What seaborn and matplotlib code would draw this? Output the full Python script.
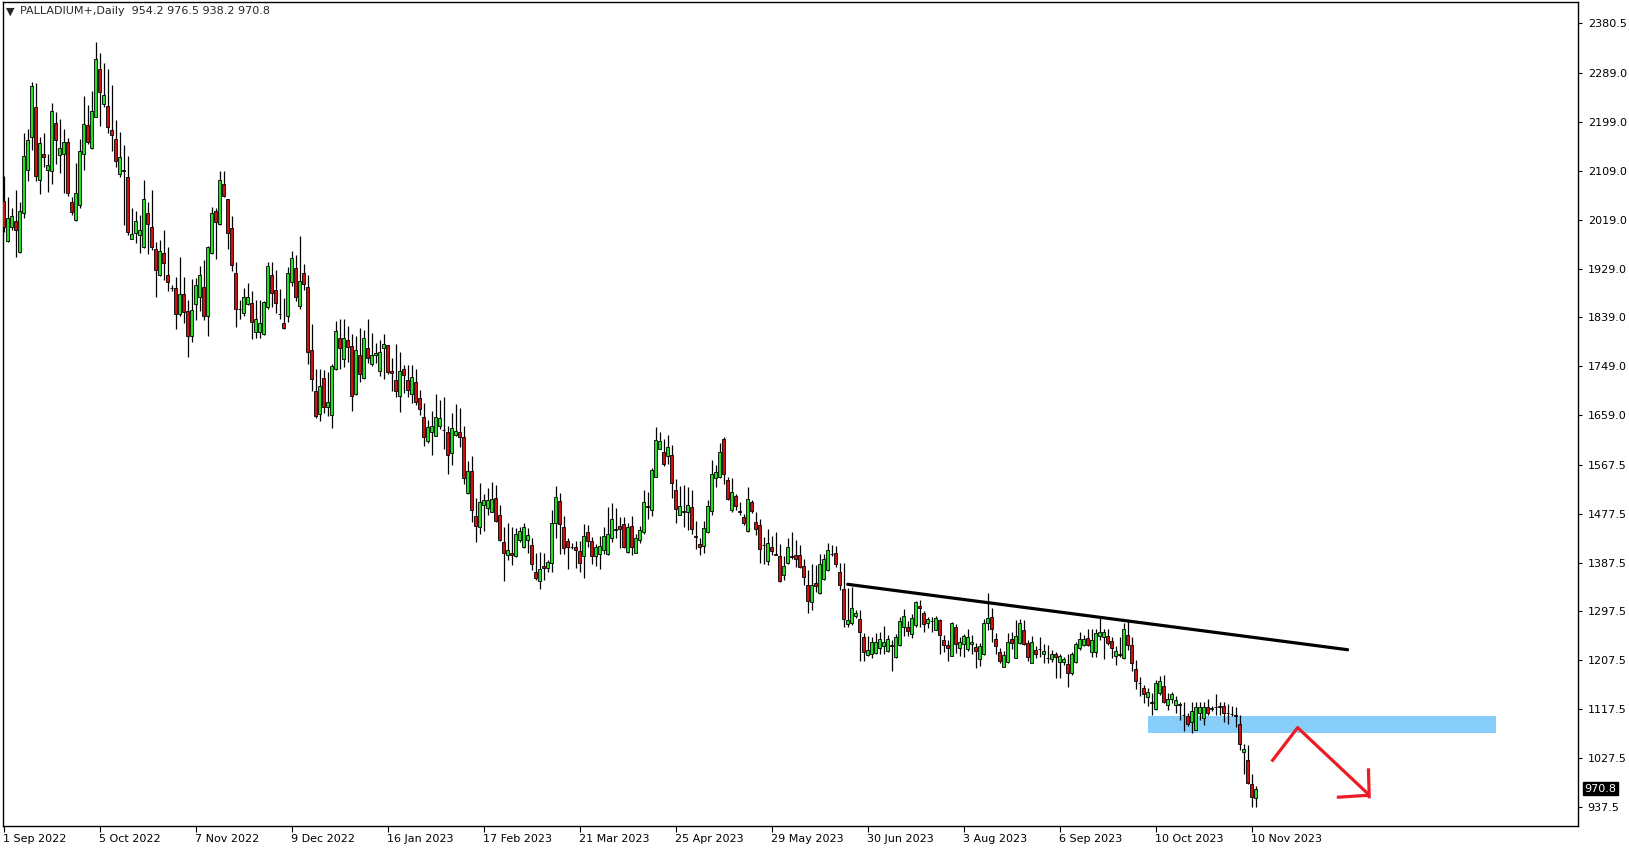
import numpy as np
import pandas as pd
import matplotlib
matplotlib.use("Agg")
import matplotlib.pyplot as plt
import matplotlib.transforms as mtransforms
import seaborn as sns

# Daily candles, 1 Sep 2022 .. 13 Nov 2023
opens = [
    2054, 1980, 2005, 2016, 1959, 2032, 2110, 2171, 2226, 2092, 2141, 2111, 2108, 2198, 2138, 2140, 2163, 2051, 2018, 2046,
    2140, 2193, 2152, 2209, 2296, 2233, 2228, 2184, 2168, 2104, 2110, 2098, 1984, 1994, 1990, 1968, 2031, 2005, 1966, 1917,
    1958, 1917, 1894, 1893, 1846, 1883, 1851, 1804, 1864, 1876, 1896, 1842, 1957, 2035, 2012, 2084, 2057, 2003, 1920, 1855,
    1848, 1863, 1865, 1813, 1813, 1809, 1858, 1917, 1889, 1846, 1828, 1841, 1905, 1931, 1861, 1920, 1896, 1779, 1703, 1662,
    1727, 1675, 1660, 1744, 1801, 1763, 1797, 1786, 1698, 1769, 1727, 1782, 1753, 1769, 1741, 1782, 1788, 1740, 1723, 1695,
    1744, 1723, 1698, 1720, 1690, 1655, 1611, 1628, 1621, 1640, 1632, 1628, 1589, 1622, 1628, 1618, 1515, 1556, 1473, 1453,
    1493, 1488, 1481, 1506, 1475, 1425, 1401, 1405, 1399, 1429, 1416, 1430, 1419, 1371, 1353, 1381, 1378, 1387, 1461, 1501,
    1453, 1427, 1417, 1416, 1408, 1399, 1443, 1427, 1399, 1403, 1410, 1403, 1432, 1449, 1454, 1458, 1407, 1454, 1406, 1429,
    1443, 1491, 1484, 1546, 1597, 1592, 1583, 1585, 1521, 1476, 1482, 1480, 1489, 1436, 1421, 1418, 1443, 1482, 1543, 1545,
    1616, 1539, 1484, 1510, 1482, 1471, 1445, 1499, 1462, 1456, 1420, 1390, 1416, 1403, 1399, 1364, 1386, 1399, 1401, 1401,
    1382, 1347, 1314, 1350, 1331, 1357, 1373, 1403, 1405, 1370, 1338, 1275, 1277, 1289, 1283, 1250, 1217, 1220, 1221, 1231,
    1234, 1225, 1235, 1214, 1236, 1268, 1269, 1256, 1272, 1308, 1295, 1277, 1280, 1264, 1282, 1244, 1236, 1216, 1268, 1230,
    1237, 1228, 1237, 1232, 1210, 1219, 1277, 1287, 1246, 1222, 1196, 1204, 1246, 1212, 1239, 1263, 1239, 1203, 1226, 1229,
    1219, 1212, 1209, 1219, 1204, 1205, 1201, 1185, 1205, 1230, 1235, 1248, 1222, 1223, 1252, 1251, 1253, 1243, 1216, 1219,
    1211, 1255, 1235, 1191, 1165, 1156, 1139, 1130, 1117, 1147, 1160, 1126, 1137, 1126, 1127, 1107, 1104, 1093, 1080, 1111,
    1101, 1122, 1118, 1121, 1123, 1123, 1110, 1109, 1107, 1090, 1039, 1024, 980, 954.2,
]
highs = [
    2100, 2060, 2040, 2074, 2052, 2178, 2187, 2272, 2270, 2171, 2178, 2140, 2234, 2218, 2204, 2187, 2169, 2061, 2123, 2167,
    2247, 2230, 2257, 2346, 2326, 2307, 2297, 2267, 2202, 2181, 2156, 2136, 2040, 2036, 2027, 2092, 2052, 2074, 1978, 1982,
    2000, 1969, 1898, 1913, 1950, 1913, 1871, 1910, 1911, 1933, 1945, 1970, 2042, 2040, 2109, 2108, 2058, 2026, 1942, 1872,
    1893, 1903, 1887, 1872, 1872, 1869, 1941, 1941, 1926, 1892, 1875, 1932, 1962, 1954, 1989, 1938, 1917, 1827, 1744, 1745,
    1742, 1739, 1753, 1833, 1836, 1836, 1823, 1809, 1805, 1820, 1816, 1836, 1810, 1792, 1797, 1809, 1789, 1764, 1790, 1775,
    1751, 1751, 1751, 1744, 1705, 1682, 1650, 1667, 1698, 1687, 1692, 1640, 1663, 1680, 1672, 1640, 1575, 1584, 1506, 1534,
    1513, 1525, 1536, 1531, 1493, 1453, 1460, 1453, 1451, 1453, 1460, 1451, 1433, 1405, 1407, 1405, 1393, 1484, 1529, 1515,
    1473, 1432, 1424, 1428, 1428, 1458, 1456, 1434, 1421, 1437, 1453, 1489, 1497, 1488, 1471, 1472, 1460, 1474, 1441, 1454,
    1522, 1517, 1561, 1637, 1628, 1616, 1623, 1605, 1542, 1529, 1530, 1527, 1521, 1465, 1433, 1464, 1502, 1576, 1567, 1607,
    1618, 1545, 1543, 1513, 1499, 1477, 1526, 1502, 1480, 1467, 1435, 1449, 1436, 1443, 1421, 1399, 1432, 1444, 1430, 1419,
    1395, 1374, 1384, 1383, 1404, 1404, 1424, 1419, 1418, 1387, 1386, 1341, 1343, 1301, 1300, 1257, 1252, 1251, 1257, 1260,
    1270, 1254, 1244, 1256, 1287, 1302, 1280, 1292, 1316, 1319, 1298, 1287, 1287, 1289, 1284, 1254, 1245, 1278, 1274, 1250,
    1256, 1266, 1255, 1239, 1239, 1284, 1332, 1303, 1257, 1230, 1225, 1258, 1260, 1282, 1283, 1282, 1245, 1252, 1234, 1251,
    1237, 1235, 1227, 1223, 1220, 1214, 1219, 1223, 1242, 1260, 1254, 1266, 1266, 1266, 1285, 1266, 1266, 1251, 1233, 1251,
    1277, 1281, 1251, 1208, 1177, 1162, 1156, 1147, 1171, 1179, 1180, 1148, 1150, 1141, 1130, 1131, 1110, 1131, 1130, 1130,
    1130, 1136, 1123, 1145, 1131, 1131, 1127, 1123, 1121, 1107, 1053, 1052, 998, 976.5,
]
lows = [
    1996, 1978, 2000, 1951, 1957, 2022, 2091, 2148, 2091, 2067, 2117, 2071, 2085, 2121, 2106, 2069, 2062, 2027, 2016, 2040,
    2110, 2158, 2149, 2208, 2192, 2227, 2178, 2146, 2117, 2098, 2009, 1990, 1983, 1976, 1957, 1967, 1955, 1963, 1876, 1915,
    1908, 1887, 1887, 1817, 1842, 1828, 1766, 1794, 1834, 1851, 1834, 1804, 1955, 1947, 2009, 2061, 1966, 1924, 1822, 1837,
    1842, 1862, 1799, 1801, 1801, 1807, 1855, 1858, 1848, 1836, 1818, 1831, 1897, 1870, 1855, 1890, 1754, 1704, 1653, 1649,
    1663, 1658, 1636, 1742, 1745, 1748, 1757, 1667, 1696, 1721, 1725, 1755, 1750, 1755, 1732, 1725, 1734, 1704, 1692, 1664,
    1699, 1692, 1682, 1677, 1660, 1602, 1607, 1585, 1620, 1633, 1596, 1550, 1567, 1621, 1600, 1532, 1513, 1462, 1425, 1440,
    1445, 1475, 1480, 1462, 1427, 1354, 1393, 1383, 1398, 1425, 1414, 1405, 1373, 1355, 1338, 1355, 1371, 1371, 1433, 1404,
    1404, 1376, 1412, 1378, 1371, 1360, 1416, 1385, 1382, 1375, 1403, 1401, 1426, 1433, 1414, 1414, 1405, 1401, 1405, 1424,
    1441, 1468, 1474, 1545, 1596, 1565, 1570, 1507, 1461, 1475, 1453, 1448, 1441, 1413, 1401, 1406, 1442, 1475, 1526, 1543,
    1533, 1502, 1480, 1484, 1476, 1456, 1444, 1478, 1438, 1387, 1384, 1383, 1401, 1401, 1352, 1355, 1384, 1394, 1379, 1377,
    1346, 1295, 1300, 1333, 1330, 1355, 1372, 1400, 1380, 1337, 1268, 1269, 1272, 1286, 1207, 1207, 1215, 1211, 1219, 1219,
    1219, 1222, 1188, 1212, 1233, 1252, 1252, 1248, 1269, 1269, 1260, 1267, 1260, 1263, 1220, 1222, 1206, 1215, 1221, 1216,
    1214, 1225, 1220, 1193, 1197, 1217, 1263, 1242, 1220, 1202, 1195, 1202, 1228, 1211, 1238, 1236, 1206, 1202, 1212, 1214,
    1203, 1202, 1205, 1174, 1174, 1199, 1159, 1180, 1202, 1227, 1233, 1233, 1214, 1214, 1245, 1210, 1236, 1211, 1199, 1214,
    1209, 1227, 1188, 1154, 1141, 1128, 1123, 1107, 1116, 1144, 1128, 1116, 1128, 1110, 1098, 1078, 1087, 1073, 1079, 1098,
    1088, 1107, 1115, 1107, 1107, 1093, 1090, 1104, 1084, 1042, 999, 980, 938, 938.2,
]
closes = [
    2006, 2022, 2025, 2001, 2036, 2136, 2165, 2265, 2099, 2160, 2134, 2119, 2219, 2165, 2152, 2163, 2068, 2034, 2069, 2145,
    2195, 2162, 2219, 2316, 2254, 2248, 2189, 2176, 2127, 2135, 2108, 1997, 1993, 2016, 2000, 2057, 2012, 1968, 1926, 1961,
    1940, 1905, 1893, 1845, 1883, 1850, 1804, 1852, 1898, 1918, 1842, 1968, 2031, 2015, 2093, 2063, 1994, 1936, 1854, 1854,
    1876, 1877, 1830, 1836, 1828, 1867, 1933, 1885, 1865, 1845, 1820, 1920, 1948, 1876, 1907, 1900, 1776, 1725, 1658, 1712,
    1675, 1683, 1749, 1815, 1782, 1801, 1784, 1694, 1779, 1734, 1801, 1764, 1769, 1773, 1775, 1791, 1738, 1736, 1703, 1740,
    1733, 1705, 1729, 1683, 1670, 1618, 1637, 1639, 1655, 1653, 1631, 1586, 1635, 1629, 1618, 1543, 1556, 1484, 1454, 1499,
    1503, 1502, 1504, 1464, 1430, 1405, 1410, 1401, 1440, 1446, 1453, 1438, 1384, 1360, 1375, 1377, 1388, 1460, 1508, 1459,
    1414, 1416, 1416, 1410, 1387, 1436, 1427, 1399, 1416, 1418, 1436, 1440, 1467, 1448, 1449, 1416, 1453, 1416, 1432, 1447,
    1499, 1490, 1558, 1613, 1611, 1570, 1600, 1535, 1486, 1491, 1480, 1493, 1449, 1435, 1416, 1451, 1491, 1550, 1554, 1591,
    1551, 1505, 1517, 1491, 1481, 1460, 1504, 1482, 1449, 1412, 1419, 1423, 1408, 1402, 1353, 1381, 1416, 1398, 1395, 1380,
    1361, 1317, 1347, 1345, 1384, 1394, 1410, 1403, 1384, 1347, 1283, 1282, 1303, 1294, 1260, 1223, 1226, 1241, 1241, 1246,
    1241, 1246, 1234, 1250, 1279, 1290, 1262, 1285, 1314, 1303, 1274, 1284, 1279, 1285, 1255, 1236, 1231, 1276, 1237, 1241,
    1252, 1250, 1241, 1224, 1233, 1277, 1285, 1265, 1233, 1206, 1217, 1242, 1239, 1252, 1276, 1238, 1214, 1242, 1220, 1228,
    1224, 1211, 1220, 1214, 1215, 1210, 1184, 1219, 1238, 1246, 1246, 1235, 1245, 1257, 1260, 1259, 1240, 1230, 1224, 1218,
    1265, 1235, 1202, 1170, 1165, 1146, 1149, 1129, 1165, 1169, 1130, 1136, 1145, 1134, 1126, 1106, 1091, 1115, 1122, 1122,
    1122, 1110, 1119, 1121, 1122, 1110, 1110, 1109, 1104, 1053, 1045, 982, 955, 970.8,
]

# axis labels as shown on the chart
date_labels = ["1 Sep 2022", "5 Oct 2022", "7 Nov 2022", "9 Dec 2022", "16 Jan 2023", "17 Feb 2023",
               "21 Mar 2023", "25 Apr 2023", "29 May 2023", "30 Jun 2023", "3 Aug 2023", "6 Sep 2023",
               "10 Oct 2023", "10 Nov 2023"]
date_positions = [0, 24, 48, 72, 96, 120, 144, 168, 192, 216, 240, 264, 288, 312]
price_ticks = [2380.5, 2289.0, 2199.0, 2109.0, 2019.0, 1929.0, 1839.0, 1749.0, 1659.0,
               1567.5, 1477.5, 1387.5, 1297.5, 1207.5, 1117.5, 1027.5, 937.5]

# drawn objects (bar index, price)
trend_x = [211, 336]
trend_y = [1347.5, 1227.0]
zone_x = [286, 373]
zone_y = [1074, 1105]
arrow_x = [317, 323.5, 341.4]
arrow_y = [1021, 1083.5, 959.4]
head_v_x = [341.2, 341.4]
head_v_y = [1008.6, 953.3]
head_h_x = [333.3, 341.4]
head_h_y = [955.2, 959.0]

symbol = "PALLADIUM+,Daily"
last_price = 970.8

df = pd.DataFrame({"open": opens, "high": highs, "low": lows, "close": closes})
df["idx"] = np.arange(len(df))

sns.set_style("white")
plt.rcParams["font.family"] = ["DejaVu Sans"]

fig = plt.figure(figsize=(16.29, 8.5), dpi=100)
ax = fig.add_axes([3 / 1629, 1 - 826 / 850, (1578 - 3) / 1629, (826 - 2) / 850])

# support / resistance zone behind the candles
ax.fill_between(zone_x, zone_y[0], zone_y[1], color="#87CEFA", lw=0, zorder=1)

# wicks
ax.vlines(df["idx"], df["low"], df["high"], color="black", lw=0.9, zorder=2)

# bodies
up = df["close"] >= df["open"]
body_bottom = np.minimum(df["open"], df["close"])
body_height = (df["close"] - df["open"]).abs()
colors = np.where(up, "#22E022", "#D01010")
colors = np.where(body_height < 1.0, "black", colors)
ax.bar(df["idx"], body_height, bottom=body_bottom, width=0.72, color=colors,
       edgecolor="black", linewidth=0.6, zorder=3)

# trend line
sns.lineplot(x=trend_x, y=trend_y, color="black", lw=2.3, ax=ax, zorder=4)

# red arrow
red = "#ED1C24"
ax.plot(arrow_x, arrow_y, color=red, lw=2.3, zorder=4, solid_capstyle="butt")
ax.plot(head_v_x, head_v_y, color=red, lw=2.3, zorder=4, solid_capstyle="butt")
ax.plot(head_h_x, head_h_y, color=red, lw=2.3, zorder=4, solid_capstyle="butt")

ax.set_xlim(-0.2, 393.6)
ax.set_ylim(902.3, 2420.1)

for s in ax.spines.values():
    s.set_color("black")
    s.set_linewidth(1.0)

ax.yaxis.tick_right()
ax.set_yticks(price_ticks)
ax.set_yticklabels([f"{p:.1f}" for p in price_ticks], fontsize=8)
ax.set_xticks(date_positions)
ax.set_xticklabels(date_labels, fontsize=8, ha="left")
ax.tick_params(axis="y", direction="out", length=3, width=0.8, pad=4, colors="black", right=True, left=False)
ax.tick_params(axis="x", direction="out", length=4, width=0.8, pad=2, colors="black", bottom=True)
offset = mtransforms.ScaledTranslation(-1 / 100, 0, fig.dpi_scale_trans)
for lab in ax.get_xticklabels():
    lab.set_transform(lab.get_transform() + offset)

ax.set_xlabel("")
ax.set_ylabel("")

# current price tag
trans = mtransforms.blended_transform_factory(ax.transAxes, ax.transData)
ax.text(1.004, last_price, f"{last_price:.1f}", transform=trans, fontsize=8, color="white",
        va="center", ha="left", zorder=6,
        bbox=dict(boxstyle="square,pad=0.12", fc="black", ec="black"))

# header text
ax.text(0.002, 0.9885, "\u25BC", transform=ax.transAxes, fontsize=8, va="center", ha="left")
ax.text(0.011, 0.9885, f"{symbol}  954.2 976.5 938.2 970.8", transform=ax.transAxes,
        fontsize=8, va="center", ha="left")

fig.savefig("out.png", dpi=100)
